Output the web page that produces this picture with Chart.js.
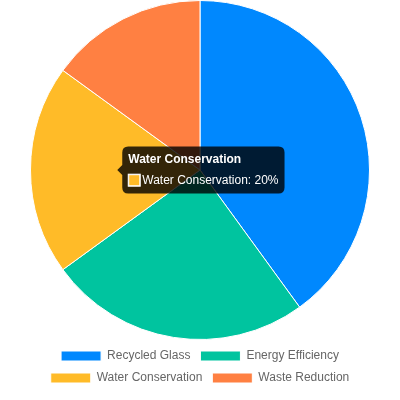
<!DOCTYPE html>
<html><head><script src="https://cdn.jsdelivr.net/npm/chart.js"></script>
<style>html,body{margin:0;padding:0;background:#fff}#w{width:400px;height:400px}</style></head>
<body><div id="w"><canvas id="c"></canvas></div>
<script>
const categories=["Recycled Glass","Energy Efficiency","Water Conservation","Waste Reduction"];
const values=[40,25,20,15];
const colors=["#0088FE","#00C49F","#FFBB28","#FF8042"];
const ch=new Chart(document.getElementById('c'),{type:'pie',
data:{labels:categories,datasets:[{data:values,backgroundColor:colors,borderColor:'#fff',borderWidth:1}]},
options:{responsive:true,maintainAspectRatio:false,animation:false,
layout:{padding:{top:0,bottom:6}},
plugins:{legend:{position:'bottom',labels:{boxWidth:40,boxHeight:10,font:{size:12,family:'Arial'},color:'#666',padding:10}},
tooltip:{titleFont:{size:12,family:'Arial',weight:'bold'},bodyFont:{size:12,family:'Arial'},
callbacks:{title:i=>i[0].label,label:i=>i.label+': '+i.raw+'%'}}}}});
ch.tooltip.setActiveElements([{datasetIndex:0,index:2}],{x:115,y:172});
ch.update();
</script></body></html>
